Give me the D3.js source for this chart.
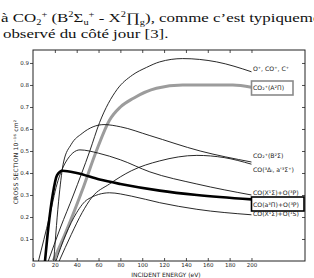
<!DOCTYPE html>
<html>
<head>
<meta charset="utf-8">
<script src="https://cdn.jsdelivr.net/npm/d3@7"></script>
<style>
  body { margin: 0; background: #fff; }
  svg { display: block; }
  .tick text { font-family: "DejaVu Sans", sans-serif; font-size: 5.5px; fill: #222; }
  .tick line { stroke: #222; stroke-width: 0.8; }
</style>
</head>
<body>
<svg width="314" height="278"></svg>
<script>
// cross sections (10^-16 cm2) against incident energy (eV)
const ionTotal  = [[14,0],[25,0.15],[37,0.3],[52,0.5],[61,0.63],[77,0.78],[91,0.845],[104,0.88],[116,0.905],[137,0.92],[168,0.905],[200,0.86]];
const co2A      = [[18.5,0],[30,0.13],[45,0.32],[58,0.5],[70,0.64],[80,0.7],[92,0.74],[113,0.785],[137,0.8],[183,0.8],[200,0.79]];
const co2B      = [[19,0],[24,0.3],[28,0.45],[35,0.53],[45,0.58],[55,0.61],[65,0.62],[80,0.61],[107,0.57],[153,0.5],[200,0.45]];
const coTriplet = [[24,0],[35,0.12],[45,0.22],[54,0.29],[70,0.35],[90,0.41],[116,0.455],[150,0.48],[175,0.47],[200,0.44]];
const coX1O3P   = [[5,0],[15,0.2],[22,0.35],[30,0.45],[43,0.505],[60,0.49],[80,0.46],[107,0.405],[150,0.35],[200,0.30]];
const coa3O3P   = [[11,0],[14,0.15],[18,0.3],[22,0.39],[27,0.41],[40,0.4],[61,0.37],[80,0.35],[116,0.32],[150,0.30],[200,0.28]];
const coX1O1S   = [[21,0],[30,0.12],[40,0.22],[50,0.28],[70,0.31],[90,0.295],[116,0.265],[150,0.235],[200,0.21]];

const seriesNames = ["O⁺, CO⁺, C⁺", "CO₂⁺(A²Π)", "CO₂⁺(B²Σ)", "CO(³Δᵢ, a'³Σ⁺)", "CO(X¹Σ)+O(³P)", "CO(a³Π)+O(³P)", "CO(X¹Σ)+O(¹S)"];
const seriesData  = [ionTotal, co2A, co2B, coTriplet, coX1O3P, coa3O3P, coX1O1S];

const xTicks = [0, 20, 40, 60, 80, 100, 120, 140, 160, 180, 200];
const yTicks = [0.1, 0.2, 0.3, 0.4, 0.5, 0.6, 0.7, 0.8, 0.9];

const svg = d3.select("svg");

// paragraph above the figure (the scan is stretched sideways)
const serif = "'Liberation Serif', 'Times New Roman', serif";
const para = svg.append("g").attr("transform", "translate(1,0) scale(1.3,1)")
    .style("font-family", serif).style("font-size", "13px").style("fill", "#111");
const l1 = para.append("text").attr("x", 0).attr("y", 22.5);
l1.append("tspan").text("à CO");
l1.append("tspan").attr("dy", 3).style("font-size", "8px").text("2");
l1.append("tspan").attr("dy", -8).style("font-size", "8px").text("+");
l1.append("tspan").attr("dy", 5).text(" (B");
l1.append("tspan").attr("dy", -5).style("font-size", "8px").text("2");
l1.append("tspan").attr("dy", 5).text("Σ");
l1.append("tspan").attr("dy", 3).style("font-size", "8px").text("u");
l1.append("tspan").attr("dy", -8).style("font-size", "8px").text("+");
l1.append("tspan").attr("dy", 5).text(" - X");
l1.append("tspan").attr("dy", -5).style("font-size", "8px").text("2");
l1.append("tspan").attr("dy", 5).text("∏");
l1.append("tspan").attr("dy", 3).style("font-size", "8px").text("g");
l1.append("tspan").attr("dy", -3).text("), comme c’est typiquement");

para.append("text").attr("x", 1.5).attr("y", 38.5)
    .text("observé du côté jour [3].");

// plot
const x = d3.scaleLinear().domain([0, 249]).range([33, 305]);
const y = d3.scaleLinear().domain([0, 0.959]).range([261, 50]);

svg.append("g").attr("transform", "translate(0,261)")
    .call(d3.axisBottom(x).tickValues(xTicks).tickSize(-3).tickPadding(2.5))
    .call(g => g.select(".domain").remove());
svg.append("g").attr("transform", "translate(0,50)")
    .call(d3.axisTop(x).tickValues(xTicks.slice(1)).tickSize(-3).tickFormat(""))
    .call(g => g.select(".domain").remove());
svg.append("g").attr("transform", "translate(33,0)")
    .call(d3.axisLeft(y).tickValues(yTicks).tickSize(3).tickPadding(1).tickFormat(d3.format(".1f")))
    .call(g => g.select(".domain").remove());
svg.append("g").attr("transform", "translate(305,0)")
    .call(d3.axisRight(y).tickValues(yTicks).tickSize(-3).tickFormat(""))
    .call(g => g.select(".domain").remove());

svg.append("rect").attr("x", 33).attr("y", 50).attr("width", 272).attr("height", 211)
    .attr("fill", "none").attr("stroke", "#222").attr("stroke-width", 1);

const line = d3.line().x(d => x(d[0])).y(d => y(d[1])).curve(d3.curveMonotoneX);

const widths = [0.9, 3, 0.9, 0.9, 0.9, 2.6, 0.9];
const colors = ["#111", "#9c9c9c", "#111", "#111", "#111", "#000", "#111"];

svg.selectAll(".courbe")
    .data(seriesData)
    .join("path")
    .attr("class", "courbe")
    .attr("d", line)
    .attr("fill", "none")
    .attr("stroke", (d, i) => colors[i])
    .attr("stroke-width", (d, i) => widths[i])
    .attr("stroke-linejoin", "round");

// curve names at the right end
const labelY = [70.5, 90, 158, 172, 195, 206.5, 216];
svg.selectAll(".nom")
    .data(seriesNames)
    .join("text")
    .attr("class", "nom")
    .attr("x", x(200) + 1.5)
    .attr("y", (d, i) => labelY[i])
    .style("font-family", "'DejaVu Sans', sans-serif")
    .style("font-size", "6.2px")
    .style("fill", "#222")
    .text(d => d);

svg.append("rect").attr("x", 251.5).attr("y", 81).attr("width", 41.5).attr("height", 14)
    .attr("fill", "none").attr("stroke", "#8a8a8a").attr("stroke-width", 1.6);
svg.append("rect").attr("x", 251.5).attr("y", 197).attr("width", 52.5).attr("height", 14)
    .attr("fill", "none").attr("stroke", "#000").attr("stroke-width", 1.6);

// axis titles
svg.append("text")
    .attr("transform", "translate(18,162) rotate(-90)")
    .attr("text-anchor", "middle")
    .style("font-family", "'DejaVu Sans', sans-serif")
    .style("font-size", "6px")
    .style("letter-spacing", "0.2px")
    .style("fill", "#222")
    .text("CROSS SECTION  10⁻¹⁶ cm²");

svg.append("text")
    .attr("x", 166).attr("y", 276.5)
    .attr("text-anchor", "middle")
    .style("font-family", "'DejaVu Sans', sans-serif")
    .style("font-size", "6px")
    .style("fill", "#222")
    .text("INCIDENT ENERGY (eV)");
</script>
</body>
</html>
